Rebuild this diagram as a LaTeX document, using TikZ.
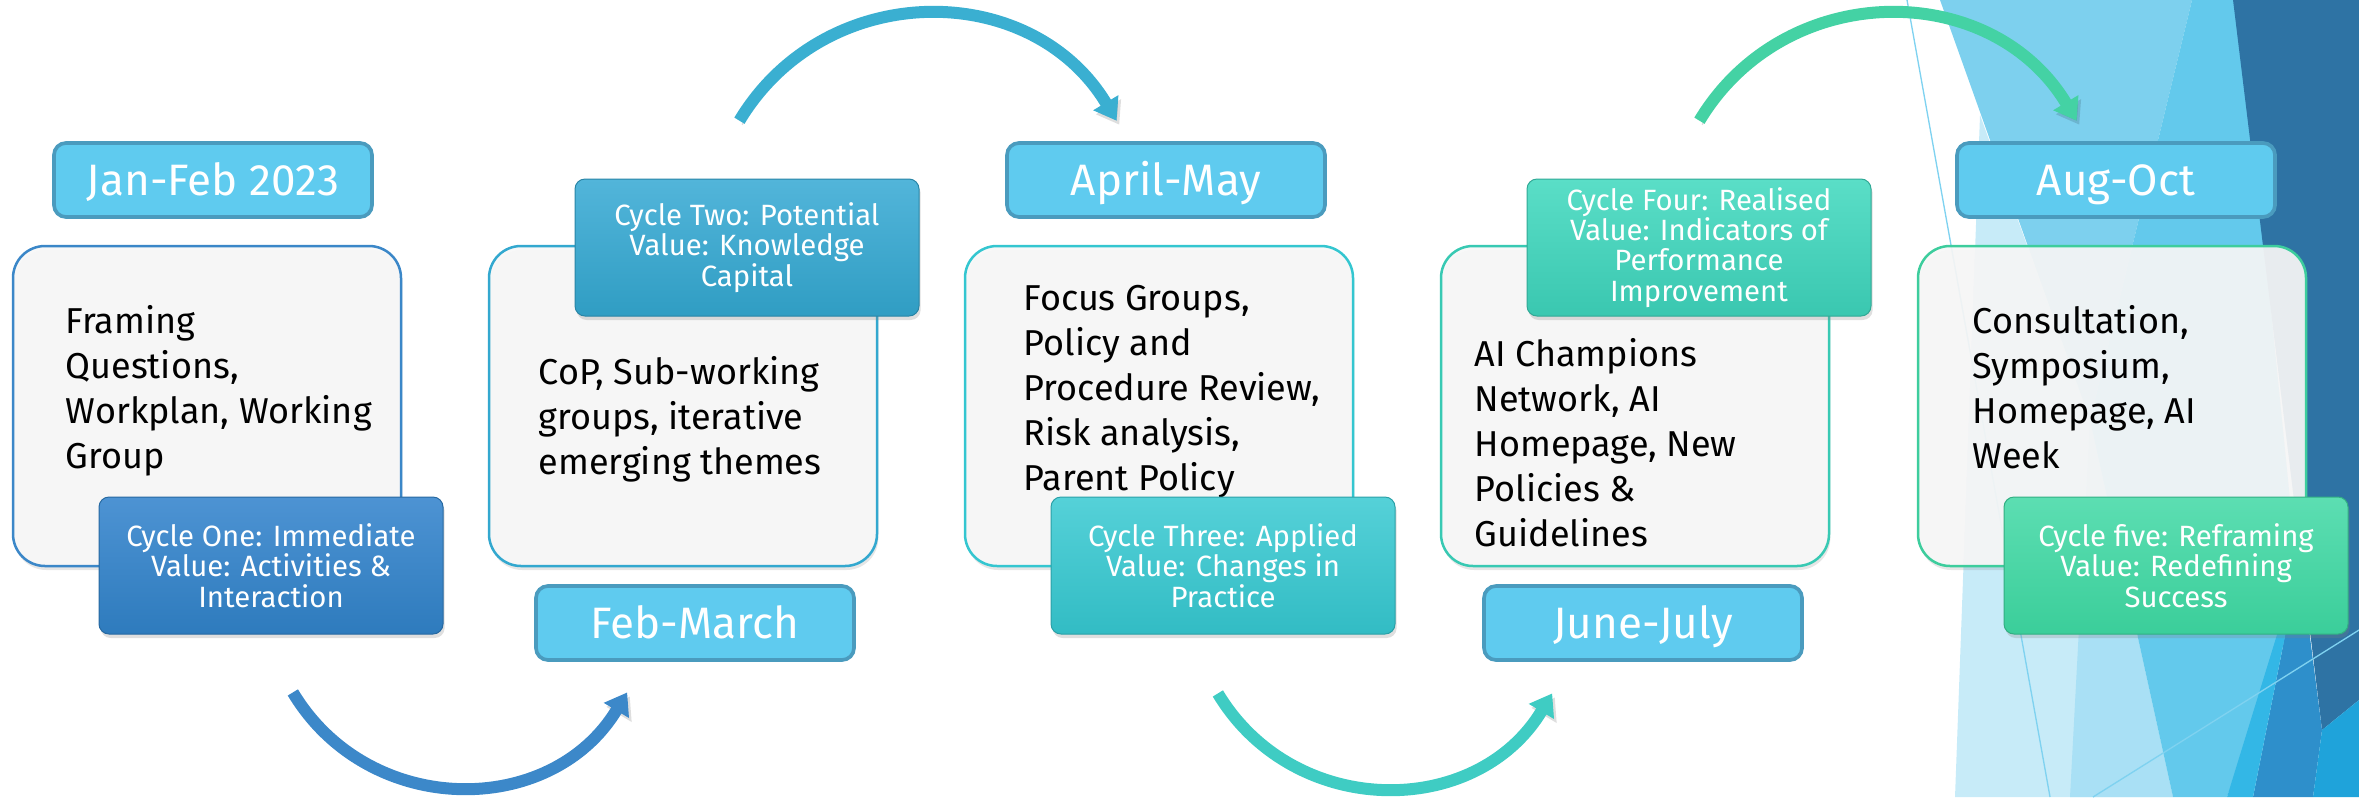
\documentclass[tikz,border=0pt]{standalone}
\usepackage{fontspec}
\setmainfont{Fira Sans}
\usetikzlibrary{arrows.meta,shadows}
\definecolor{boxfill}{HTML}{F7F7F7}
\definecolor{datefill}{HTML}{5FCBEF}
\definecolor{dateline}{HTML}{4A9BBE}
\definecolor{bAcol}{HTML}{3B87C8}
\definecolor{bBcol}{HTML}{33A8CF}
\definecolor{bCcol}{HTML}{34C6D0}
\definecolor{bDcol}{HTML}{38C9B3}
\definecolor{bEcol}{HTML}{3DCD9D}
\definecolor{cAtop}{HTML}{4D93D3}\definecolor{cAbot}{HTML}{2E7BBD}
\definecolor{cBtop}{HTML}{52B5DA}\definecolor{cBbot}{HTML}{309DC3}
\definecolor{cCtop}{HTML}{55D1D8}\definecolor{cCbot}{HTML}{32BCC4}
\definecolor{cDtop}{HTML}{5ADEC7}\definecolor{cDbot}{HTML}{3AC7B0}
\definecolor{cEtop}{HTML}{5CDEB2}\definecolor{cEbot}{HTML}{3BCE9A}
\definecolor{arrA}{HTML}{3C88C9}
\definecolor{arrB}{HTML}{3AAFD1}
\definecolor{arrC}{HTML}{3FCCC3}
\definecolor{arrD}{HTML}{44D2A4}
\definecolor{decpale}{HTML}{C7EBF8}
\definecolor{decpaleb}{HTML}{A9E0F5}
\definecolor{declight}{HTML}{7DD0EE}
\definecolor{decmed}{HTML}{63C9EC}
\definecolor{decdark}{HTML}{2E73A4}
\definecolor{decblue}{HTML}{2E8FCB}
\definecolor{decbright}{HTML}{33B7E6}
\definecolor{deccyan}{HTML}{1FA3DA}
\definecolor{decline}{HTML}{7FD2F0}
\newcommand\mainfnt{\fontsize{10.8pt}{13.5pt}\selectfont}
\newcommand\cycfnt{\fontsize{8.8pt}{9.1pt}\selectfont}
\newcommand\datefnt{\fontsize{13.2pt}{15pt}\selectfont}
\tikzset{
  mainbox/.style={draw=#1, line width=0.75pt, rounded corners=9.6pt, fill=boxfill,
    fill opacity=0.92, minimum width=116.4pt, minimum height=96pt, inner sep=0pt,
    drop shadow={opacity=0.2, shadow xshift=0.4pt, shadow yshift=-1.2pt}},
  cyclebox/.style 2 args={top color=#1, bottom color=#2, draw=#2!85!black,
    line width=0.3pt, rounded corners=3pt, minimum width=103.2pt, minimum height=41.1pt,
    inner sep=0pt, text=white, font=\cycfnt, align=center,
    drop shadow={opacity=0.25, shadow xshift=0.5pt, shadow yshift=-1.2pt}},
  datebox/.style={fill=datefill, draw=dateline, line width=1.1pt, rounded corners=3.6pt,
    minimum width=95.4pt, minimum height=22.2pt, inner sep=0pt, text=white,
    font=\datefnt, text height=9.1pt, text depth=0pt},
  maintext/.style={anchor=north west, inner sep=0pt, align=left, font=\mainfnt, text=black},
  arcarrow/.style={line width=3.6pt, draw=#1, -{Triangle[width=8.4pt,length=6.3pt]},
    preaction={draw=black, opacity=0.13, transform canvas={xshift=0.8pt, yshift=-1.2pt}}}
}
\begin{document}
\begin{tikzpicture}[x=0.3pt,y=-0.3pt]
\useasboundingbox (0,0) rectangle (2359,797);
% background decoration
\fill[decpale] (1955,797) -- (1980,115) -- (2090,420) -- (2173,797) -- cycle;
\fill[decpaleb] (2070,797) -- (2090,420) -- (2173,797) -- cycle;
\fill[declight] (1940,0) -- (2192,0) -- (2090,420) -- cycle;
\fill[decmed] (2192,0) -- (2240,0) -- (2300,600) -- (2227,797) -- (2173,797) -- (2090,420) -- cycle;
\fill[decdark] (2233,0) -- (2359,0) -- (2359,700) -- (2322,730) -- cycle;
\fill[decblue] (2253,797) -- (2300,560) -- (2322,730) -- (2313,797) -- cycle;
\fill[decbright] (2227,797) -- (2300,560) -- (2253,797) -- cycle;
\fill[deccyan] (2313,797) -- (2322,730) -- (2359,700) -- (2359,797) -- cycle;
\draw[decline, line width=0.4pt] (1907,0) -- (2050,797);
\draw[decline, line width=0.4pt] (2093,797) -- (2359,630);
% arrows
\coordinate (a1s) at (292.85,692.43); \coordinate (a1e) at (627.15,692.43);
\coordinate (a2s) at (739.42,120.69); \coordinate (a2e) at (1116.58,120.69);
\coordinate (a3s) at (1217.85,693.43); \coordinate (a3e) at (1552.15,693.43);
\coordinate (a4s) at (1699.42,120.69); \coordinate (a4e) at (2076.58,120.69);
\draw[arcarrow=arrA] (a1s) .. controls (368.6,818.5) and (551.4,818.5) .. (a1e);
\draw[arcarrow=arrB] (a2s) .. controls (824.9,-21.55) and (1031.1,-21.55) .. (a2e);
\draw[arcarrow=arrC] (a3s) .. controls (1293.6,819.5) and (1476.4,819.5) .. (a3e);
\draw[arcarrow=arrD] (a4s) .. controls (1784.9,-21.55) and (1991.1,-21.55) .. (a4e);
% main boxes
\node[mainbox=bAcol] (b1) at (207,406) {};
\node[mainbox=bBcol] (b2) at (683,406) {};
\node[mainbox=bCcol] (b3) at (1159,406) {};
\node[mainbox=bDcol] (b4) at (1635,406) {};
\node[mainbox=bEcol] (b5) at (2112,406) {};
\node[maintext] (t1) at (65,301.5) {\strut Framing\\Questions,\\Workplan, Working\\Group};
\node[maintext] (t2) at (538,352.5) {\strut CoP, Sub-working\\groups, iterative\\emerging themes};
\node[maintext] (t3) at (1023,278.5) {\strut Focus Groups,\\Policy and\\Procedure Review,\\Risk analysis,\\Parent Policy};
\node[maintext] (t4) at (1474,334.5) {\strut AI Champions\\Network, AI\\Homepage, New\\Policies \&\\Guidelines};
\node[maintext] (t5) at (1972,301.5) {\strut Consultation,\\Symposium,\\Homepage, AI\\Week};
% cycle boxes
\node[cyclebox={cAtop}{cAbot}] (c1) at (271,565.5) {Cycle One: Immediate\\Value: Activities \&\\Interaction};
\node[cyclebox={cBtop}{cBbot}] (c2) at (747,247.5) {Cycle Two: Potential\\Value: Knowledge\\Capital};
\node[cyclebox={cCtop}{cCbot}] (c3) at (1223,565.5) {Cycle Three: Applied\\Value: Changes in\\Practice};
\node[cyclebox={cDtop}{cDbot}] (c4) at (1699,247.5) {Cycle Four: Realised\\Value: Indicators of\\Performance\\Improvement};
\node[cyclebox={cEtop}{cEbot}] (c5) at (2176,565.5) {Cycle five: Reframing\\Value: Redefining\\Success};
% date boxes
\node[datebox] (d1) at (213,180) {Jan-Feb 2023};
\node[datebox] (d2) at (695,623) {Feb-March};
\node[datebox] (d3) at (1166,180) {April-May};
\node[datebox] (d4) at (1643,623) {June-July};
\node[datebox] (d5) at (2116,180) {Aug-Oct};
\end{tikzpicture}
\end{document}
